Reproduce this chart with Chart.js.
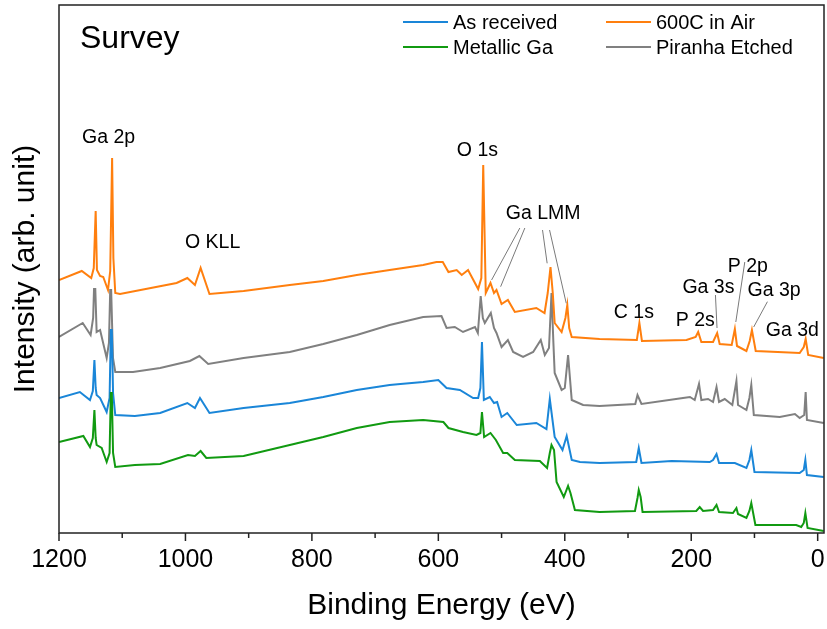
<!DOCTYPE html>
<html>
<head>
<meta charset="utf-8">
<script src="https://cdn.jsdelivr.net/npm/chart.js@4"></script>
<style>
  html, body { margin: 0; padding: 0; background: #fff; }
</style>
</head>
<body>
<canvas id="myChart" width="827" height="629"></canvas>
<script>
// series names in legend order
const seriesNames = ['As received', '600C in Air', 'Metallic Ga', 'Piranha Etched'];

// [binding energy (eV), intensity (arb.)]
const asReceived = [
    [1200, 135], [1167, 141], [1151, 133], [1146.5, 142], [1144, 173], [1142, 145], [1140.5, 138],
    [1135, 135], [1124.6, 121], [1120, 135], [1118, 203], [1116.5, 203], [1114.5, 140], [1111, 118],
    [1080, 117], [1040, 120], [997, 130], [985, 125], [977, 135], [962, 120], [908, 125],
    [835, 130], [782, 136], [729, 143], [677, 148], [660, 149], [624, 151], [600, 153], [587, 145],
    [566, 143], [545, 135], [537, 135], [533.5, 145], [531, 191], [528, 133], [518.6, 136],
    [512, 130], [507, 131], [500, 116], [491, 120], [476, 108], [445, 110], [429, 104],
    [423.7, 134], [416, 96], [403.6, 83], [397, 97], [389, 73], [376, 71], [345, 70], [287, 71],
    [283, 85], [278.7, 70], [231, 72], [170.7, 71], [165.5, 73], [160, 79], [156, 70], [131, 70],
    [112.7, 65], [108, 73], [105, 83], [100, 61], [28.5, 60], [22, 63], [19.5, 73], [17, 58],
    [-9.5, 56]
];
const air600 = [
    [1200, 253], [1164, 262], [1149, 255], [1145, 265], [1142, 322], [1140, 263], [1135, 257],
    [1130, 256], [1122.5, 243], [1119, 262], [1116, 375], [1114, 275], [1111, 240], [1103.5, 239],
    [1014, 250], [997, 255], [985, 248], [976, 265], [962, 239], [908, 242], [835, 248],
    [782, 252], [729, 258], [677, 263], [624, 268], [603, 271], [593, 271], [584, 261],
    [571, 263], [563, 258], [553, 263], [537, 244], [532, 255], [529, 368], [525, 240],
    [517.5, 250], [512, 240], [508, 243], [500, 229], [490, 233], [479, 221], [445, 225],
    [432, 220], [427, 240], [422.6, 266], [419, 240], [416, 210], [405, 201], [399, 215],
    [396, 228], [393, 205], [389, 196], [345, 194], [286, 193], [282, 210], [278, 192],
    [207.5, 193], [193, 196], [189, 201], [184, 191], [165.5, 191], [159, 200], [155, 189],
    [136, 188], [131, 204], [127.6, 187], [112.7, 182], [107.5, 192], [104, 203], [98, 182],
    [28.5, 180], [22, 186], [19, 194], [15, 178], [-9.5, 175]
];
const metallicGa = [
    [1200, 91], [1161.5, 97], [1151, 86], [1146.5, 95], [1144, 123], [1142, 95], [1140.5, 88],
    [1132.5, 85], [1124.6, 71], [1120, 80], [1118, 140], [1116.5, 140], [1114.5, 80], [1111, 66],
    [1080, 68], [1040, 69], [996, 78], [985, 77], [976, 82], [967, 75], [908, 77], [835, 88],
    [782, 96], [729, 105], [677, 111], [624, 113], [592, 111], [584, 105], [561, 101],
    [539.6, 98], [533.5, 100], [531, 121], [527.6, 96], [517.5, 100], [509, 93], [497.5, 80],
    [491, 80], [479, 73], [439.5, 72], [428, 65], [423.7, 80], [421, 88], [417, 83], [413, 51],
    [401.6, 36], [394.8, 47], [391, 40], [384, 23], [345, 21], [289, 22], [285, 35], [283, 43],
    [280, 36], [277, 21], [192, 22], [186.6, 26], [181.3, 22], [165.5, 23], [160, 28], [156, 21],
    [134, 20], [128.5, 25], [126, 19], [112.7, 15], [108, 22], [105, 30], [98.5, 8], [34, 8],
    [26, 6], [22, 10], [19.5, 20], [16, 5], [-9.5, 2]
];
const piranha = [
    [1200, 196], [1162.5, 210], [1150, 198], [1146, 215], [1144.6, 244], [1142.6, 244], [1140.5, 201],
    [1135, 203], [1124.6, 175], [1121, 190], [1119, 243], [1117.5, 243], [1114.6, 175], [1111, 161],
    [1083, 161], [1040, 165], [993, 172], [978, 177], [964, 169], [908, 175], [835, 181],
    [782, 189], [729, 198], [677, 208], [624, 216], [595, 217], [587, 205], [574, 206],
    [561, 201], [542, 206], [537.5, 200], [533, 237], [529.6, 215], [526.5, 210], [517, 220],
    [512, 205], [508, 200], [500, 186], [490, 193], [481.7, 181], [466, 176], [450, 181],
    [438, 193], [431.6, 178], [425, 185], [421, 240], [418, 190], [416, 160], [405, 143],
    [400, 145], [394.8, 178], [389, 133], [371, 128], [345, 127], [288.5, 129], [285, 138],
    [278.7, 129], [213, 135], [202, 136], [194.5, 133], [187.7, 149], [184, 133], [173.4, 134],
    [165.5, 131], [160, 146], [156, 131], [147, 134], [135, 128], [128.5, 152], [126, 128],
    [112.7, 123], [108, 135], [105, 148], [101, 118], [60, 116], [36, 119], [28.5, 115],
    [21.3, 118], [19, 141], [17, 113], [-9.5, 110]
];

// labelled ticks and all tick marks of the x axis
const xTickValues = [0, 200, 400, 600, 800, 1000, 1200];
const xTickMarks = [0, 100, 200, 300, 400, 500, 600, 700, 800, 900, 1000, 1100, 1200];

const colors = ['#1a86d8', '#ff7f0e', '#119a11', '#808080'];

// peak labels: text, BE of left edge, intensity of baseline
const peakLabels = [
    ['Ga 2p', 1163.6, 390], ['O KLL', 1000.8, 285], ['O 1s', 570.7, 377], ['Ga LMM', 493.3, 314],
    ['C 1s', 322.5, 214.7], ['P 2s', 224.5, 207], ['Ga 3s', 214, 240], ['P 2p', 142.3, 261],
    ['Ga 3p', 111, 237], ['Ga 3d', 82, 197]
];
// leader lines from label to peak
const leaders = [
    [471.1, 305, 515.8, 253], [463.2, 305, 501.5, 246.3], [435.2, 303, 427.9, 269.7],
    [424.1, 303, 397.7, 229.7], [161.7, 238, 159.2, 205], [115.3, 271, 129.5, 211],
    [79.5, 231.3, 101.2, 206]
];

const toPoints = arr => arr.map(p => ({x: p[0], y: p[1]}));

const font = "'Liberation Sans', Arial, sans-serif";
Chart.defaults.font.family = font;
Chart.defaults.color = '#000';

const extras = {
    id: 'extras',
    afterDatasetsDraw(chart) {
        const ctx = chart.ctx;
        const xs = chart.scales.x, ys = chart.scales.y;
        const area = chart.chartArea;
        ctx.save();
        // leader lines
        ctx.strokeStyle = '#7a7a7a';
        ctx.lineWidth = 1;
        leaders.forEach(l => {
            ctx.beginPath();
            ctx.moveTo(xs.getPixelForValue(l[0]), ys.getPixelForValue(l[1]));
            ctx.lineTo(xs.getPixelForValue(l[2]), ys.getPixelForValue(l[3]));
            ctx.stroke();
        });
        // peak labels
        ctx.fillStyle = '#000';
        ctx.textAlign = 'left';
        ctx.textBaseline = 'alphabetic';
        ctx.font = '19.5px ' + font;
        peakLabels.forEach(p => {
            ctx.fillText(p[0], xs.getPixelForValue(p[1]), ys.getPixelForValue(p[2]));
        });
        // title inside the plot
        ctx.font = '32px ' + font;
        ctx.fillText('Survey', area.left + 21, area.top + 43);
        // legend, two columns
        ctx.font = '20px ' + font;
        ctx.lineWidth = 2;
        seriesNames.forEach((name, i) => {
            const col = i % 2, row = Math.floor(i / 2);
            const x0 = area.left + 344 + col * 203;
            const y0 = area.top + 17 + row * 25;
            ctx.strokeStyle = colors[i];
            ctx.beginPath();
            ctx.moveTo(x0, y0);
            ctx.lineTo(x0 + 45, y0);
            ctx.stroke();
            ctx.fillText(name, x0 + 50, y0 + 7.3);
        });
        // frame
        ctx.strokeStyle = '#222';
        ctx.lineWidth = 1.5;
        ctx.strokeRect(area.left, area.top, area.right - area.left, area.bottom - area.top);
        // x tick marks, long for labelled ones
        xTickMarks.forEach(v => {
            const px = xs.getPixelForValue(v);
            const len = xTickValues.includes(v) ? 8 : 5;
            ctx.beginPath();
            ctx.moveTo(px, area.bottom);
            ctx.lineTo(px, area.bottom + len);
            ctx.stroke();
        });
        ctx.restore();
    }
};

const datasetOrder = [2, 0, 1, 3];

new Chart(document.getElementById('myChart'), {
    type: 'line',
    data: {
        datasets: [asReceived, air600, metallicGa, piranha].map((d, i) => ({
            label: seriesNames[i],
            data: toPoints(d),
            borderColor: colors[i],
            borderWidth: 2,
            pointRadius: 0,
            tension: 0,
            order: datasetOrder[i]
        }))
    },
    options: {
        responsive: false,
        animation: false,
        layout: {padding: {top: 5, right: 3, left: 0, bottom: 0}},
        plugins: {legend: {display: false}, tooltip: {enabled: false}},
        scales: {
            x: {
                type: 'linear',
                reverse: true,
                min: -10,
                max: 1200,
                afterBuildTicks: s => { s.ticks = xTickValues.map(v => ({value: v})); },
                ticks: {
                    autoSkip: false,
                    maxRotation: 0,
                    padding: 12,
                    font: {size: 25},
                    callback: v => String(v)
                },
                grid: {drawOnChartArea: false, drawTicks: false},
                border: {display: false},
                title: {display: true, text: 'Binding Energy (eV)', font: {size: 30}, padding: {top: 0, bottom: 5}},
                afterFit: s => { s.height = 96; }
            },
            y: {
                min: 0,
                max: 528,
                ticks: {display: false},
                grid: {display: false},
                border: {display: false},
                title: {display: true, text: 'Intensity (arb. unit)', font: {size: 30}, padding: {top: 8, bottom: 0}},
                afterFit: s => { s.width = 59; }
            }
        }
    },
    plugins: [extras]
});
</script>
</body>
</html>
